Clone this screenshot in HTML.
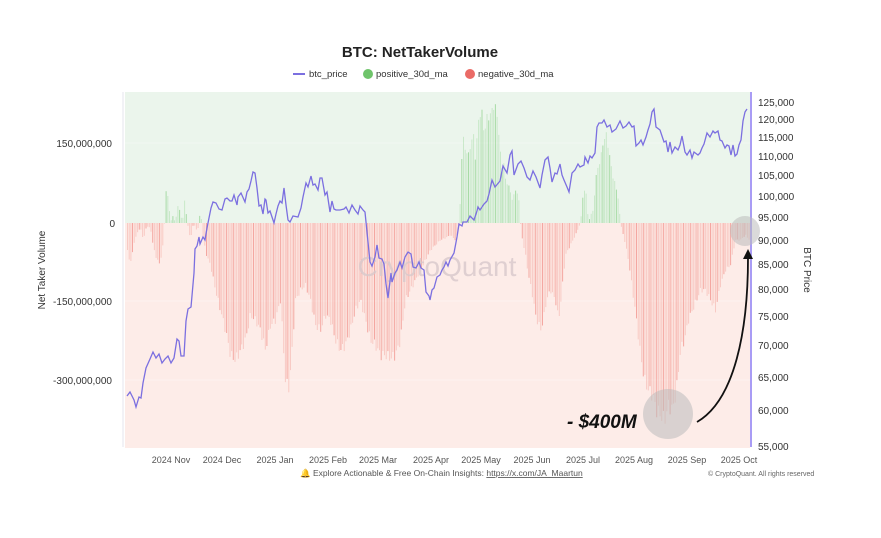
<!DOCTYPE html><html><head><style>body{margin:0;background:#fff;font-family:"Liberation Sans",sans-serif}</style></head><body>
<svg id="s" width="881" height="533" xmlns="http://www.w3.org/2000/svg" font-family="Liberation Sans, sans-serif">
<rect width="881" height="533" fill="#fff"/>
<rect x="125" y="92" width="625" height="131" fill="#ebf5ec"/>
<rect x="125" y="223" width="625" height="225" fill="#fdece8"/>
<g stroke="#fff" stroke-width="0.6" opacity="0.6"><line x1="125" x2="750" y1="143" y2="143"/><line x1="125" x2="750" y1="301" y2="301"/><line x1="125" x2="750" y1="380" y2="380"/></g>
<g id="bars"></g>
<text x="437" y="276" font-size="28" fill="#d8c9cc" text-anchor="middle" opacity="0.8">CryptoQuant</text>
<polyline id="pl" fill="none" stroke="#7b6fe0" stroke-width="1.3"/>
<line x1="751" y1="92" x2="751" y2="447" stroke="#a99cf5" stroke-width="2"/>
<line x1="123" y1="92" x2="123" y2="447" stroke="#e4e4ee" stroke-width="1"/>
<text x="420" y="57" font-size="15" font-weight="bold" text-anchor="middle" fill="#222">BTC: NetTakerVolume</text>
<g font-size="9.5" fill="#333"><line x1="293" y1="74" x2="305" y2="74" stroke="#7b6fe0" stroke-width="2"/><text x="309" y="77">btc_price</text>
<circle cx="368" cy="74" r="5" fill="#6fc46b"/><text x="376" y="77">positive_30d_ma</text>
<circle cx="470" cy="74" r="5" fill="#ea6b66"/><text x="478" y="77">negative_30d_ma</text></g>
<g font-size="10" fill="#333" text-anchor="end"><text x="112" y="147">150,000,000</text><text x="115" y="227">0</text><text x="112" y="305">-150,000,000</text><text x="112" y="384">-300,000,000</text></g>
<text transform="translate(45,270) rotate(-90)" font-size="10" fill="#333" text-anchor="middle">Net Taker Volume</text>
<g font-size="10" fill="#333"><text x="758" y="106">125,000</text><text x="758" y="123">120,000</text><text x="758" y="141">115,000</text><text x="758" y="160">110,000</text><text x="758" y="179">105,000</text><text x="758" y="200">100,000</text><text x="758" y="221">95,000</text><text x="758" y="244">90,000</text><text x="758" y="268">85,000</text><text x="758" y="293">80,000</text><text x="758" y="320">75,000</text><text x="758" y="349">70,000</text><text x="758" y="381">65,000</text><text x="758" y="414">60,000</text><text x="758" y="450">55,000</text></g>
<text transform="translate(804,270) rotate(90)" font-size="10" fill="#333" text-anchor="middle">BTC Price</text>
<g font-size="9" fill="#555" text-anchor="middle"><text x="171" y="463">2024 Nov</text><text x="222" y="463">2024 Dec</text><text x="275" y="463">2025 Jan</text><text x="328" y="463">2025 Feb</text><text x="378" y="463">2025 Mar</text><text x="431" y="463">2025 Apr</text><text x="481" y="463">2025 May</text><text x="532" y="463">2025 Jun</text><text x="583" y="463">2025 Jul</text><text x="634" y="463">2025 Aug</text><text x="687" y="463">2025 Sep</text><text x="739" y="463">2025 Oct</text></g>
<text x="300" y="476" font-size="8.5" fill="#555">🔔 Explore Actionable &amp; Free On-Chain Insights: <tspan text-decoration="underline">https://x.com/JA_Maartun</tspan></text>
<text x="708" y="476" font-size="7" fill="#666">© CryptoQuant. All rights reserved</text>
<circle cx="668" cy="414" r="25" fill="#bbb" opacity="0.55"/>
<circle cx="745" cy="231" r="15" fill="#bbb" opacity="0.55"/>
<path d="M697,422 C735,400 748,330 748,258" fill="none" stroke="#111" stroke-width="1.8"/>
<polygon points="748,249 743,259 753,259" fill="#111"/>
<text x="567" y="428" font-size="19" font-weight="bold" font-style="italic" fill="#111">- $400M</text>
</svg>
<script>
var env=[[127,250],[130,265],[133,245],[137,232],[140,228],[143,240],[146,226],[150,228],[153,248],[156,258],[159,264],[162,250],[164,223],[166,185],[168,200],[170,223],[172,215],[175,223],[177,205],[179,210],[182,223],[184,200],[187,223],[190,240],[193,223],[197,232],[200,210],[203,240],[206,255],[210,265],[215,290],[220,310],[225,330],[230,355],[235,360],[240,350],[245,340],[250,315],[255,320],[260,330],[265,350],[270,325],[275,320],[280,300],[285,380],[288,390],[291,360],[295,300],[300,290],[305,285],[310,300],[315,325],[320,330],[325,315],[330,320],[335,340],[340,350],[345,345],[350,330],[355,310],[360,300],[365,320],[370,340],[375,345],[380,355],[385,355],[390,358],[395,355],[400,340],[405,300],[410,290],[415,280],[420,270],[425,260],[430,250],[435,245],[440,240],[445,238],[450,235],[455,240],[459,225],[461,160],[463,140],[465,150],[468,155],[470,145],[473,135],[475,160],[478,120],[481,110],[484,135],[486,118],[490,115],[493,105],[496,110],[499,140],[501,170],[503,160],[505,180],[508,185],[512,200],[515,190],[518,195],[520,223],[522,240],[525,255],[528,275],[532,295],[535,315],[540,330],[543,320],[546,300],[550,290],[555,300],[558,320],[560,305],[565,255],[570,245],[575,235],[580,223],[582,200],[585,185],[588,223],[590,215],[593,210],[595,180],[598,165],[600,160],[603,140],[606,135],[609,155],[612,175],[615,185],[618,200],[620,223],[624,240],[628,260],[632,290],[636,320],[640,355],[644,380],[648,390],[652,395],[656,410],[660,415],[664,420],[668,405],[672,410],[676,390],[680,350],[684,340],[688,320],[692,310],[696,300],[700,290],[705,290],[710,300],[715,310],[720,285],[725,270],[730,265],[735,240],[740,240],[745,235],[749,240]];
function f(x){for(var i=0;i<env.length-1;i++){if(x>=env[i][0]&&x<=env[i+1][0]){var t=(x-env[i][0])/(env[i+1][0]-env[i][0]);return env[i][1]+t*(env[i+1][1]-env[i][1]);}}return 223;}
var h='',k=0;
for(var x=127;x<=749;x+=1.68){var y=f(x)+(Math.sin(k*2.3)*0.04)*(f(x)-223);k++;
var op=(k%4==0)?0.6:0.3;
if(y<223)h+='<rect x="'+x.toFixed(1)+'" y="'+y.toFixed(1)+'" width="1" height="'+(223-y).toFixed(1)+'" fill="#7cc978" opacity="'+op+'"/>';
else if(y>223.5)h+='<rect x="'+x.toFixed(1)+'" y="223" width="1" height="'+(y-223).toFixed(1)+'" fill="#ee7a72" opacity="'+op+'"/>';}
document.getElementById('bars').innerHTML=h;
var p="127,396 130,392 134,400 136,407 139,397 141,398 143,383 146,368 150,359 153,352 156,358 159,354 162,363 165,359 168,356 171,363 174,358 177,339 179,341 181,356 184,356 186,321 188,309 191,307 194,273 195,249 197,246 199,237 200,244 203,237 205,240 207,228 211,208 213,202 216,203 219,209 222,210 225,199 227,198 230,201 232,201 234,195 237,205 238,197 241,193 245,202 247,192 249,189 251,181 253,172 255,173 257,188 259,206 261,205 263,214 265,199 266,200 268,213 270,211 272,217 274,223 276,214 278,206 280,201 282,203 284,188 286,205 288,220 290,222 293,216 298,217 301,208 303,197 306,183 308,187 311,176 313,185 315,184 318,190 320,178 322,178 325,195 327,192 330,212 332,201 334,209 336,210 340,210 344,209 346,207 349,213 352,205 355,210 358,214 360,206 363,210 365,212 367,232 370,262 372,266 375,257 377,245 379,258 382,259 384,264 386,284 388,298 391,273 392,282 395,273 397,270 400,262 402,268 405,257 408,252 411,254 413,267 416,268 419,262 421,268 424,270 426,292 429,296 430,300 432,290 434,288 437,277 440,275 442,270 444,267 446,262 448,266 450,260 454,253 457,237 459,224 462,226 463,222 467,222 470,216 474,220 477,211 478,207 480,210 484,204 487,201 489,194 492,180 495,187 500,181 503,166 507,173 510,155 512,151 514,175 518,164 521,161 524,168 527,177 530,180 533,171 536,177 540,188 542,175 545,160 548,157 550,168 552,182 555,173 557,174 560,164 562,175 564,180 567,187 569,192 572,173 575,170 578,164 580,167 584,165 585,157 588,163 590,156 592,158 595,153 597,127 599,123 602,123 604,120 607,127 610,125 612,132 616,129 620,121 623,128 626,126 629,122 632,127 634,126 636,146 639,143 641,140 643,145 646,137 648,130 650,124 652,112 654,109 656,127 660,130 664,142 666,141 668,152 670,142 672,153 675,147 678,150 680,145 682,136 685,152 687,155 690,150 692,158 694,152 698,155 700,153 702,148 704,144 707,133 710,137 713,131 715,133 718,131 720,140 722,141 725,148 727,145 729,146 731,155 733,145 735,156 737,154 739,145 741,140 743,121 745,112 747,109";
document.getElementById('pl').setAttribute('points',p);
</script>
</body></html>
